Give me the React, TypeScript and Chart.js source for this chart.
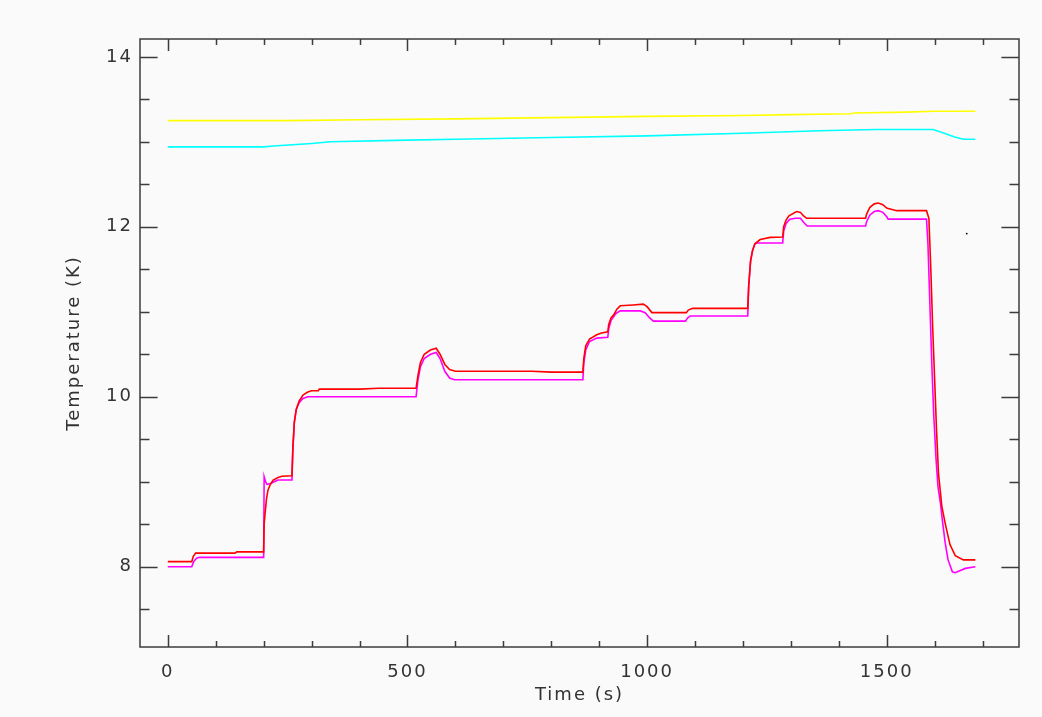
import React, { useEffect, useRef } from "react";
import { Chart, registerables } from "chart.js";

Chart.register(...registerables);

// ---- Data ----
const xTickValues = [0, 500, 1000, 1500];
const yTickValues = [8, 10, 12, 14];

const yellowTime = [0, 250, 400, 600, 800, 1000, 1200, 1300, 1427, 1430, 1540, 1600, 1685];
const yellowTemp = [13.25, 13.25, 13.26, 13.27, 13.285, 13.3, 13.31, 13.32, 13.33, 13.34, 13.35, 13.36, 13.36];

const cyanTime = [0, 200, 220, 300, 340, 500, 600, 800, 1000, 1200, 1360, 1476, 1597, 1620, 1640, 1660, 1685];
const cyanTemp = [12.94, 12.94, 12.95, 12.98, 13.0, 13.02, 13.03, 13.05, 13.07, 13.1, 13.13, 13.145, 13.145, 13.1, 13.06, 13.03, 13.03];

const redTime = [
  0, 50, 53, 58, 140, 144, 200, 201, 203, 206, 209, 214, 220, 230, 238, 259, 261, 264, 268, 274, 282, 292, 300, 314, 316, 400, 440, 518,
  522, 527, 535, 548, 560, 568, 578, 588, 600, 760, 800, 866, 868, 872, 880, 895, 905, 918, 920, 925, 930, 937, 944, 971, 992, 1000,
  1010, 1082, 1086, 1095, 1210, 1212, 1216, 1220, 1225, 1236, 1257, 1283, 1285, 1290, 1296, 1312, 1320, 1326, 1333, 1456, 1458, 1465,
  1474, 1482, 1492, 1500, 1507, 1521, 1583, 1588, 1592, 1596, 1600, 1604, 1608, 1615, 1622, 1632, 1643, 1660, 1685,
];
const redTemp = [
  8.06, 8.06, 8.12, 8.16, 8.16, 8.175, 8.175, 8.5, 8.63, 8.8, 8.9, 8.97, 9.02, 9.05, 9.065, 9.07, 9.4, 9.7, 9.85, 9.95, 10.02, 10.055,
  10.07, 10.07, 10.09, 10.09, 10.1, 10.1, 10.25, 10.4, 10.5, 10.55, 10.57, 10.5, 10.38, 10.32, 10.3, 10.3, 10.29, 10.29, 10.45, 10.6,
  10.68, 10.73, 10.75, 10.765, 10.85, 10.93, 10.96, 11.03, 11.07, 11.08, 11.09, 11.06, 10.99, 10.99, 11.02, 11.04, 11.04, 11.3, 11.6,
  11.72, 11.8, 11.85, 11.875, 11.88, 12.0, 12.08, 12.13, 12.18, 12.17, 12.13, 12.1, 12.1, 12.15, 12.23, 12.27, 12.28, 12.26, 12.22,
  12.21, 12.19, 12.19, 12.1, 11.5, 10.8, 10.2, 9.6, 9.1, 8.71, 8.51, 8.26, 8.13, 8.08, 8.08,
];

const magentaTime = [
  0, 50, 54, 60, 66, 200, 201, 204, 207, 215, 222, 230, 259, 261, 264, 268, 274, 282, 292, 518, 522, 527, 535, 548, 560, 568, 578, 588,
  598, 866, 868, 872, 880, 895, 918, 920, 925, 935, 944, 986, 996, 1005, 1013, 1080, 1085, 1090, 1210, 1212, 1216, 1220, 1225, 1230,
  1283, 1285, 1290, 1298, 1310, 1320, 1327, 1334, 1456, 1458, 1465, 1474, 1482, 1492, 1500, 1503, 1583, 1586, 1590, 1594, 1598, 1603,
  1607, 1612, 1616, 1622, 1628, 1637, 1643, 1664, 1685,
];
const magentaTemp = [
  8.0, 8.0, 8.06, 8.1, 8.11, 8.11, 9.06, 9.0, 8.97, 8.98, 9.0, 9.02, 9.02, 9.4, 9.7, 9.85, 9.93, 9.98, 10.0, 10.0, 10.2, 10.35, 10.45,
  10.5, 10.52, 10.45, 10.3, 10.22, 10.2, 10.2, 10.4, 10.55, 10.65, 10.69, 10.7, 10.8, 10.9, 10.98, 11.01, 11.01, 10.99, 10.93, 10.89,
  10.89, 10.93, 10.95, 10.95, 11.3, 11.6, 11.72, 11.8, 11.81, 11.81, 11.95, 12.04, 12.09, 12.1, 12.1, 12.05, 12.01, 12.01, 12.06,
  12.14, 12.18, 12.19, 12.17, 12.12, 12.09, 12.09, 11.8, 11.1, 10.4, 9.8, 9.26, 8.94, 8.75, 8.55, 8.28, 8.08, 7.94, 7.93, 7.98, 8.0,
];

const strayTime = [1667];
const strayTemp = [11.92];

const toPoints = (xs: number[], ys: number[]) => xs.map((x, i) => ({ x, y: ys[i] }));

const framePlugin = {
  id: "idlFrame",
  beforeDraw(chart: any) {
    const ctx = chart.ctx;
    ctx.save();
    ctx.fillStyle = "#fafafa";
    ctx.fillRect(0, 0, chart.width, chart.height);
    ctx.restore();
    ctx.letterSpacing = "2px";
  },
  afterDraw(chart: any) {
    const { ctx, chartArea } = chart;
    const { left, right, top, bottom } = chartArea;
    const xs = chart.scales.x;
    const ys = chart.scales.y;
    ctx.save();
    ctx.strokeStyle = "#3c3c3c";
    ctx.lineWidth = 1.5;
    ctx.strokeRect(left, top, right - left, bottom - top);
    ctx.beginPath();
    for (let v = 0; v <= xs.max; v += 100) {
      const px = Math.round(xs.getPixelForValue(v)) + 0.5;
      const len = v % 500 === 0 ? 12 : 6;
      ctx.moveTo(px, bottom);
      ctx.lineTo(px, bottom - len);
      ctx.moveTo(px, top);
      ctx.lineTo(px, top + len);
    }
    for (let v = 7.5; v <= ys.max + 1e-9; v += 0.5) {
      const py = Math.round(ys.getPixelForValue(v)) + 0.5;
      const major = Math.abs(v % 2) < 1e-9;
      const len = major ? 17.6 : 9.5;
      ctx.moveTo(left, py);
      ctx.lineTo(left + len, py);
      ctx.moveTo(right, py);
      ctx.lineTo(right - len, py);
    }
    ctx.stroke();
    ctx.restore();
  },
};

export default function App() {
  const canvasRef = useRef<HTMLCanvasElement | null>(null);

  useEffect(() => {
    if (!canvasRef.current) return;
    Chart.defaults.font.family = "'DejaVu Sans', sans-serif";
    const lineDs = (label: string, xs: number[], ys: number[], color: string) => ({
      label,
      data: toPoints(xs, ys),
      borderColor: color,
      backgroundColor: color,
      borderWidth: 1.6,
      pointRadius: 0,
      tension: 0,
      fill: false,
    });
    const chart = new Chart(canvasRef.current, {
      type: "line",
      data: {
        datasets: [
          {
            label: "stray",
            data: toPoints(strayTime, strayTemp),
            borderColor: "#000",
            backgroundColor: "#000",
            pointRadius: 0.9,
            pointBorderWidth: 0,
            showLine: false,
          } as any,
          lineDs("red", redTime, redTemp, "#ff0000"),
          lineDs("magenta", magentaTime, magentaTemp, "#ff00ff"),
          lineDs("cyan", cyanTime, cyanTemp, "#00ffff"),
          lineDs("yellow", yellowTime, yellowTemp, "#ffff00"),
        ],
      },
      options: {
        animation: false,
        responsive: false,
        devicePixelRatio: 1,
        layout: { padding: { top: 39, right: 23, left: 0, bottom: 0 } },
        plugins: { legend: { display: false }, tooltip: { enabled: false } },
        scales: {
          x: {
            type: "linear",
            min: -58,
            max: 1776,
            afterBuildTicks: (s: any) => {
              s.ticks = xTickValues.map((v) => ({ value: v }));
            },
            afterFit: (s: any) => {
              s.height = 70;
            },
            grid: { display: false, drawTicks: false },
            border: { display: false },
            ticks: {
              color: "#333",
              font: { size: 18 },
              padding: 15,
              maxRotation: 0,
              autoSkip: false,
              callback: (v: any) => String(v),
            },
            title: {
              display: true,
              text: "Time (s)",
              color: "#333",
              font: { size: 18 },
              padding: { top: 0, bottom: 11 },
            },
          },
          y: {
            type: "linear",
            min: 7.055,
            max: 14.21,
            afterBuildTicks: (s: any) => {
              s.ticks = yTickValues.map((v) => ({ value: v }));
            },
            afterFit: (s: any) => {
              s.width = 140;
            },
            grid: { display: false, drawTicks: false },
            border: { display: false },
            ticks: { color: "#333", font: { size: 18 }, padding: 7, autoSkip: false, callback: (v: any) => String(v) },
            title: {
              display: true,
              text: "Temperature (K)",
              color: "#333",
              font: { size: 18 },
              padding: { top: 64, bottom: 0 },
            },
          },
        },
      },
      plugins: [framePlugin],
    });
    return () => chart.destroy();
  }, []);

  return (
    <div style={{ position: "fixed", left: 0, top: 0, width: 1042, height: 717, background: "#fafafa" }}>
      <canvas ref={canvasRef} width={1042} height={717} />
    </div>
  );
}
